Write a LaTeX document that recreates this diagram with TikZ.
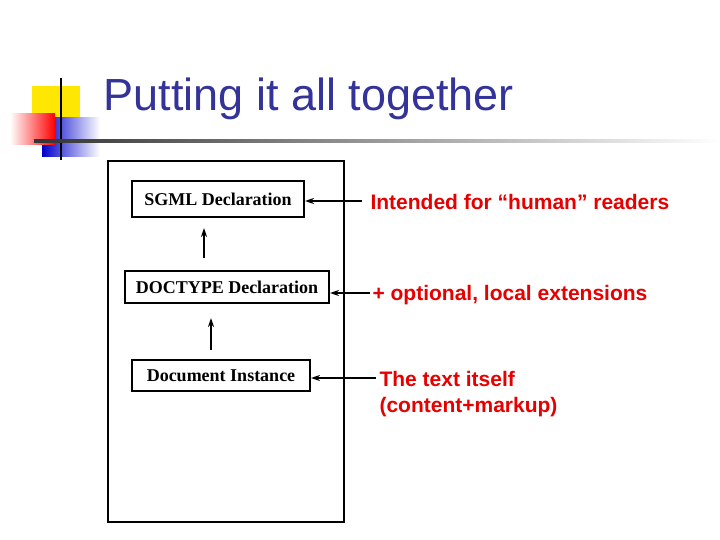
\documentclass[tikz,border=0pt]{standalone}
\usepackage{fontspec}
\setmainfont{Liberation Serif}
\newfontfamily\sansf{Liberation Sans}
\usetikzlibrary{arrows.meta}
\definecolor{ttl}{RGB}{51,51,153}
\definecolor{rtx}{RGB}{230,0,0}
\tikzset{box/.style={draw,line width=2pt,font=\bfseries\fontsize{18}{20}\selectfont,inner sep=0pt},
 arr/.style={-{Stealth[length=9pt,width=6pt]},line width=1.5pt},
 red/.style={text=rtx,font=\sansf\bfseries\fontsize{21}{26}\selectfont,anchor=west,align=left}}
\begin{document}
\begin{tikzpicture}[x=1pt,y=-1pt]
\useasboundingbox (0,0) rectangle (720,540);
% logo
\fill[yellow!90!orange] (32,86) rectangle (80,120);
\shade[left color=blue!80!black,right color=white] (42,118) rectangle (100,157);
\shade[left color=white,right color=red] (10,114) rectangle (55,145);
\draw[line width=2.5pt] (61,78) -- (61,160);
\shade[left color=black!80,right color=white] (34,140) rectangle (720,142.5);
\node[anchor=west,text=ttl,font=\sansf\fontsize{45}{50}\selectfont] (title) at (100,99) {Putting it all together};
% frame
\draw[line width=2pt] (108,161) rectangle (344,522);
\node[box,minimum width=172,minimum height=36] (sgml) at (218,199) {SGML\ Declaration};
\node[box,minimum width=204,minimum height=32] (doct) at (227,287) {DOCTYPE Declaration};
\node[box,minimum width=178,minimum height=31] (inst) at (221,375.5) {Document Instance};
\coordinate (a1) at (204,258); \coordinate (a1e) at (204,228);
\coordinate (a2) at (211,350); \coordinate (a2e) at (211,318);
\draw[arr] (a1) -- (a1e);
\draw[arr] (a2) -- (a2e);
\node[red] (t1) at (367,202) {Intended for “human” readers};
\node[red] (t2) at (369,295) {+ optional, local extensions};
\node[red] (t3) at (376,394) {The text itself\\(content+markup)};
\coordinate (b1) at (362,201); \coordinate (b2) at (370,293); \coordinate (b3) at (376,378);
\draw[arr] (b1) -- (sgml.east|-b1);
\draw[arr] (b2) -- (doct.east|-b2);
\draw[arr] (b3) -- (inst.east|-b3);
\end{tikzpicture}
\end{document}
